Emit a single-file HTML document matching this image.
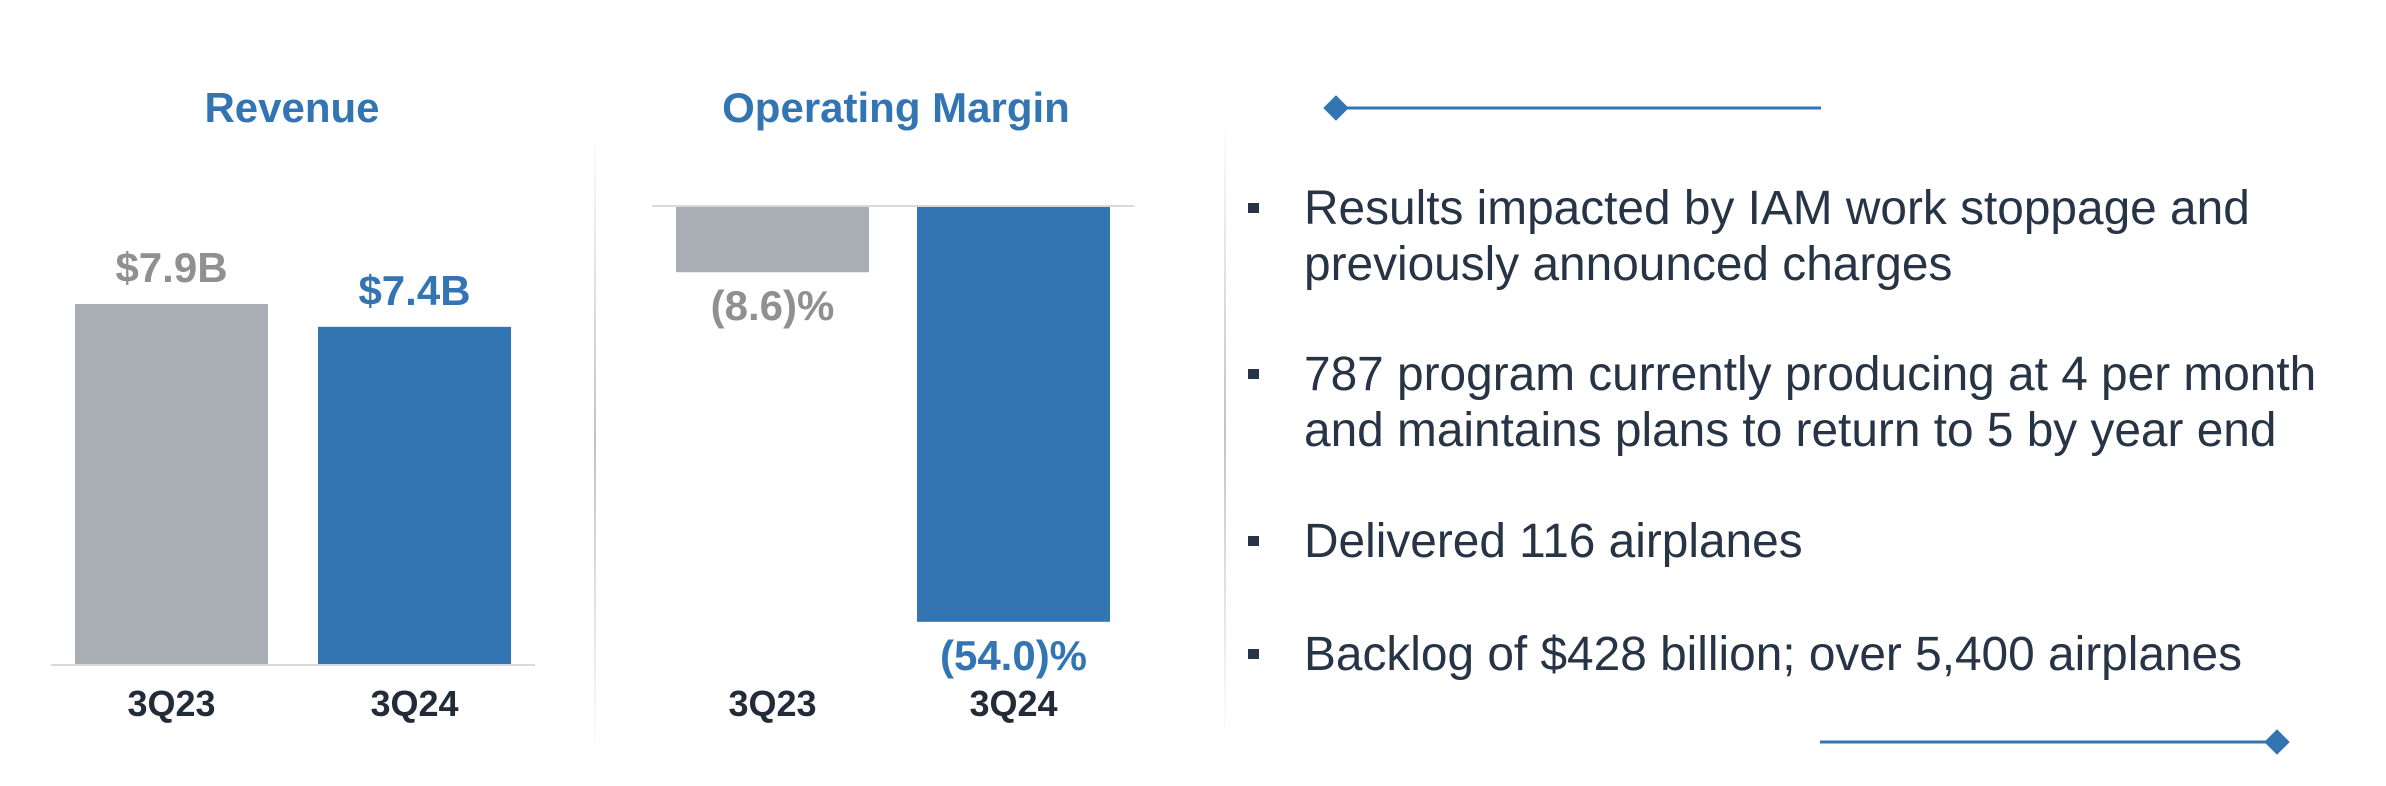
<!DOCTYPE html>
<html><head><meta charset="utf-8">
<style>
html,body{margin:0;padding:0;background:#fff;}
svg{display:block;font-family:"Liberation Sans",Arial,sans-serif;}
</style></head>
<body>
<svg id="chart" width="2386" height="786" viewBox="0 0 2386 786" xmlns="http://www.w3.org/2000/svg">
  <defs>
    <linearGradient id="divg" x1="0" y1="0" x2="0" y2="1">
      <stop offset="0" stop-color="#ffffff"/>
      <stop offset="0.5" stop-color="#b8c4d4"/>
      <stop offset="1" stop-color="#ffffff"/>
    </linearGradient>
  </defs>
  <text x="292" y="122" text-anchor="middle" font-size="42" font-weight="bold" fill="#3375b3">Revenue</text>
  <text x="896" y="122" text-anchor="middle" font-size="42" font-weight="bold" fill="#3375b3">Operating Margin</text>
  <rect x="594" y="126" width="2" height="630" fill="url(#divg)"/>
  <rect x="1224" y="118" width="2" height="625" fill="url(#divg)"/>
  <g id="rev"></g>
  <g id="opm"></g>

  <line x1="1336" y1="108" x2="1821" y2="108" stroke="#3375b3" stroke-width="3"/>
  <rect x="1327" y="99" width="18" height="18" fill="#3375b3" transform="rotate(45 1336 108)"/>
  <line x1="1820" y1="742" x2="2277" y2="742" stroke="#3375b3" stroke-width="3"/>
  <rect x="2268" y="733" width="18" height="18" fill="#3375b3" transform="rotate(45 2277 742)"/>

  <g font-size="47.8" fill="#263445">
    <rect x="1248" y="203" width="11" height="10"/>
    <text x="1304" y="224">Results impacted by IAM work stoppage and</text>
    <text x="1304" y="280">previously announced charges</text>
    <rect x="1248" y="369" width="11" height="10"/>
    <text x="1304" y="390">787 program currently producing at 4 per month</text>
    <text x="1304" y="446">and maintains plans to return to 5 by year end</text>
    <rect x="1248" y="536" width="11" height="10"/>
    <text x="1304" y="557">Delivered 116 airplanes</text>
    <rect x="1248" y="649" width="11" height="10"/>
    <text x="1304" y="670">Backlog of $428 billion; over 5,400 airplanes</text>
  </g>
</svg>
<script>
const categories = ["3Q23", "3Q24"];
const revenueValues = [7.9, 7.4];
const revenueLabels = ["$7.9B", "$7.4B"];
const marginValues = [-8.6, -54.0];
const marginLabels = ["(8.6)%", "(54.0)%"];

const NS = "http://www.w3.org/2000/svg";
const colors = ["#a8aeb4", "#3375b3"];
const labelColors = ["#909090", "#3375b3"];
function mk(tag, attrs, parent) {
  const e = document.createElementNS(NS, tag);
  for (const k in attrs) e.setAttribute(k, attrs[k]);
  parent.appendChild(e);
  return e;
}
// Revenue axes
const revBase = 665;
const revY = v => revBase - v * 45.7;
const revX = i => 75 + i * 243;
const revW = 193;
const rev = document.getElementById('rev');
categories.forEach((c, i) => {
  const y = revY(revenueValues[i]);
  const r = mk('rect', {x: revX(i), y: y, width: revW, height: revBase - y, fill: colors[i]}, rev);
  
  
  const t = mk('text', {x: revX(i) + revW / 2, y: y - 22, 'text-anchor': 'middle', 'font-size': 42, 'font-weight': 'bold', fill: labelColors[i]}, rev);
  t.textContent = revenueLabels[i];
  
  
  const cl = mk('text', {x: revX(i) + revW / 2, y: 716, 'text-anchor': 'middle', 'font-size': 36, 'font-weight': 'bold', fill: '#222b38'}, rev);
  cl.textContent = c;
  
  
});
const rb = mk('line', {x1: 51, y1: revBase, x2: 535, y2: revBase, stroke: '#d9d9d9', 'stroke-width': 2}, rev);



// Operating margin axes
const opBase = 206;
const opY = v => opBase - v * 7.7;
const opX = i => 676 + i * 241;
const opW = 193;
const opm = document.getElementById('opm');
categories.forEach((c, i) => {
  const y = opY(marginValues[i]);
  const r = mk('rect', {x: opX(i), y: opBase, width: opW, height: y - opBase, fill: colors[i]}, opm);
  
  
  const t = mk('text', {x: opX(i) + opW / 2, y: y + 48, 'text-anchor': 'middle', 'font-size': 42, 'font-weight': 'bold', fill: labelColors[i]}, opm);
  t.textContent = marginLabels[i];
  
  
  const cl = mk('text', {x: opX(i) + opW / 2, y: 716, 'text-anchor': 'middle', 'font-size': 36, 'font-weight': 'bold', fill: '#222b38'}, opm);
  cl.textContent = c;
  
  
});
const ob = mk('line', {x1: 652, y1: opBase, x2: 1134, y2: opBase, stroke: '#d9d9d9', 'stroke-width': 2}, opm);


</script>
</body></html>
